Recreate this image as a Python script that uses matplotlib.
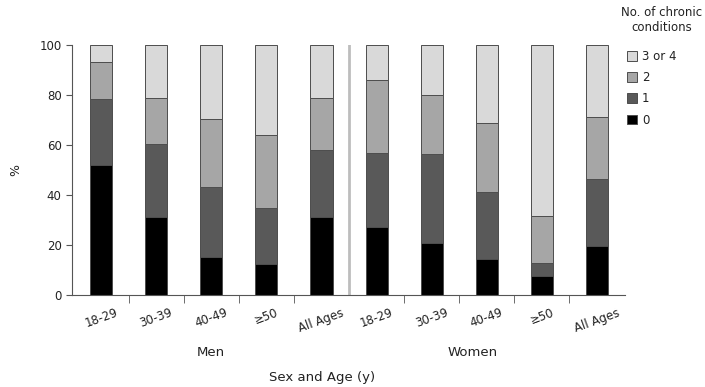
import matplotlib.pyplot as plt
import numpy as np

# category labels per bar (Men 0-4, Women 5-9)
age_labels = ["18-29", "30-39", "40-49", "\u226550", "All Ages"] * 2
groups = ["Men", "Women"]

# percent of people by number of chronic conditions
pct_0 = [52.0, 31.3, 15.3, 12.4, 31.3, 27.3, 20.7, 14.3, 7.7, 19.6]
pct_1 = [26.3, 29.1, 28.0, 22.3, 26.7, 29.6, 35.6, 27.0, 5.0, 26.8]
pct_2 = [15.0, 18.3, 27.0, 29.3, 20.7, 29.1, 23.7, 27.7, 18.9, 24.9]
pct_3 = [6.7, 21.3, 29.7, 36.0, 21.3, 14.0, 20.0, 31.0, 68.4, 28.7]

series = [("0", pct_0, "#000000"),
          ("1", pct_1, "#595959"),
          ("2", pct_2, "#a6a6a6"),
          ("3 or 4", pct_3, "#d9d9d9")]

fig = plt.figure(figsize=(7.05, 3.87), dpi=100)
ax = fig.add_axes([72 / 705, 1 - 295 / 387, (625 - 72) / 705, 250 / 387])

x = np.arange(len(age_labels))
bottom = np.zeros(len(x))
handles = []
for name, vals, color in series:
    h = ax.bar(x, vals, width=0.4, bottom=bottom, color=color,
               edgecolor="#4d4d4d", linewidth=0.7, label=name)
    handles.append(h)
    bottom += np.array(vals)

ax.axvline(4.5, color="#bdbdbd", lw=2)

ax.set_xlim(-0.53, 9.51)
ax.set_ylim(0, 100)
ax.set_yticks([0, 20, 40, 60, 80, 100])
for s in ("top", "right"):
    ax.spines[s].set_visible(False)
for s in ("left", "bottom"):
    ax.spines[s].set_color("#555555")
    ax.spines[s].set_linewidth(0.8)

ax.set_xticks(x)
ax.set_xticklabels(age_labels, rotation=20, ha="center", fontsize=8.5, color="#222222")
ax.tick_params(axis="x", which="major", length=0, pad=8)
ax.set_xticks([0.5, 1.5, 2.5, 3.5, 5.5, 6.5, 7.5, 8.5], minor=True)
ax.tick_params(axis="x", which="minor", length=6, color="#555555")
ax.tick_params(axis="y", length=4, color="#555555", labelsize=8.5, labelcolor="#222222")

ax.set_ylabel("%", fontsize=9, color="#222222", labelpad=12)

fig.text(211 / 705, 1 - 352 / 387, groups[0], ha="center", va="center", fontsize=9.5, color="#222222")
fig.text(473 / 705, 1 - 352 / 387, groups[1], ha="center", va="center", fontsize=9.5, color="#222222")
fig.text(322 / 705, 1 - 377 / 387, "Sex and Age (y)", ha="center", va="center", fontsize=9.5, color="#222222")

fig.text(662 / 705, 1 - 20 / 387, "No. of chronic\nconditions", ha="center", va="center",
         fontsize=8.5, color="#222222", linespacing=1.15)
leg = fig.legend(handles[::-1], [s[0] for s in series][::-1], loc="upper left",
                 bbox_to_anchor=(622 / 705, 1 - 45 / 387), frameon=False,
                 fontsize=8.5, handlelength=0.9, handleheight=0.9,
                 handletextpad=0.4, labelspacing=0.7, borderaxespad=0)
for t in leg.get_texts():
    t.set_color("#222222")

fig.savefig("out.png", dpi=100)
